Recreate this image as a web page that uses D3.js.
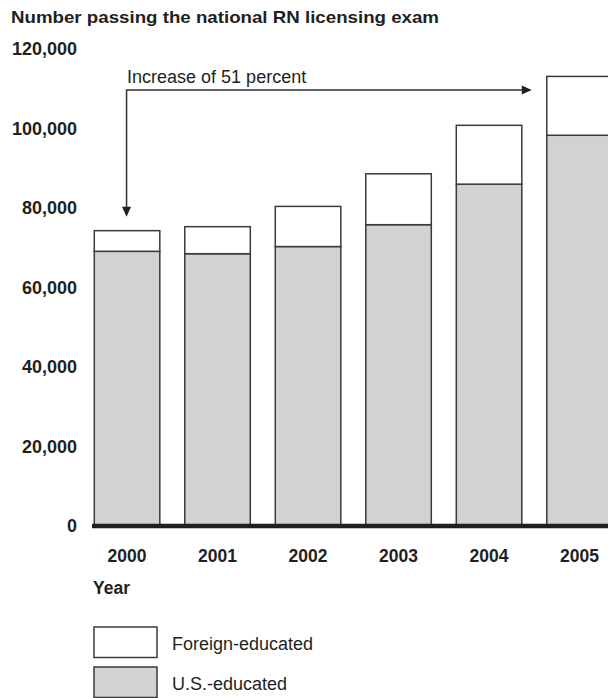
<!DOCTYPE html>
<html>
<head>
<meta charset="utf-8">
<script src="https://cdn.jsdelivr.net/npm/d3@7"></script>
<style>
  html, body { margin: 0; padding: 0; background: #fff; }
  svg { display: block; }
  text { font-family: "Liberation Sans", Arial, Helvetica, sans-serif; fill: #231f20; }
</style>
</head>
<body>
<svg id="chart" width="608" height="698"></svg>
<script>
// RN licensing exam passers by year, split by where the nurse was educated
const years = ["2000", "2001", "2002", "2003", "2004", "2005"];
const usEducated = [69100, 68500, 70300, 75800, 86000, 98300];
const foreignEducated = [5200, 6800, 10100, 12800, 14800, 14800];
const yTicks = [0, 20000, 40000, 60000, 80000, 100000, 120000];
const seriesNames = ["Foreign-educated", "U.S.-educated"];
const seriesFills = ["#ffffff", "#d1d2d4"];

const svg = d3.select("#chart");
const ink = "#231f20";
const barStroke = "#3a3a3a";
const fontStack = "'Liberation Sans', Arial, sans-serif";

const x = d3.scaleBand()
  .domain(years)
  .range([81.8, 624.8])
  .paddingInner(0.276)
  .paddingOuter(0.138);

const y = d3.scaleLinear().domain([0, 120000]).range([526, 49]);

// Title
svg.append("text")
  .attr("x", 11).attr("y", 23)
  .attr("font-size", 17).attr("font-weight", "bold")
  .attr("textLength", 428).attr("lengthAdjust", "spacingAndGlyphs")
  .text("Number passing the national RN licensing exam");

// Y axis labels (no line, no ticks)
const yAxis = d3.axisLeft(y).tickValues(yTicks).tickSize(0).tickPadding(0)
  .tickFormat(d3.format(","));
const yg = svg.append("g").attr("transform", "translate(77,0)").call(yAxis);
yg.select(".domain").remove();
yg.selectAll("text")
  .attr("font-size", 18).attr("font-weight", "bold")
  .attr("font-family", fontStack)
  .attr("fill", ink);

// Stacked bars
const rows = years.map((yr, i) => ({ year: yr, us: usEducated[i], foreign: foreignEducated[i] }));
const bars = svg.append("g");
rows.forEach(r => {
  const g = bars.append("g");
  g.append("rect")
    .attr("x", x(r.year)).attr("width", x.bandwidth())
    .attr("y", y(r.us)).attr("height", y(0) - y(r.us))
    .attr("fill", seriesFills[1]).attr("stroke", barStroke).attr("stroke-width", 1.5);
  g.append("rect")
    .attr("x", x(r.year)).attr("width", x.bandwidth())
    .attr("y", y(r.us + r.foreign)).attr("height", y(r.us) - y(r.us + r.foreign))
    .attr("fill", seriesFills[0]).attr("stroke", barStroke).attr("stroke-width", 1.5);
});

// Heavy baseline
svg.append("line")
  .attr("x1", 92).attr("x2", 608)
  .attr("y1", y(0)).attr("y2", y(0))
  .attr("stroke", ink).attr("stroke-width", 4.5);

// X axis labels
const xAxis = d3.axisBottom(x).tickSize(0).tickPadding(0);
const xg = svg.append("g").attr("transform", "translate(0,550)").call(xAxis);
xg.select(".domain").remove();
xg.selectAll("text")
  .attr("font-size", 17.5).attr("font-weight", "bold")
  .attr("font-family", fontStack)
  .attr("fill", ink);

svg.append("text")
  .attr("x", 93).attr("y", 594)
  .attr("font-size", 17.5).attr("font-weight", "bold")
  .text("Year");

// Annotation: growth from 2000 to 2005
const first = rows[0], last = rows[rows.length - 1];
const ax = x(first.year) + x.bandwidth() / 2 - 0.5;
const ay = 90;
const endX = x(last.year) - 15;
const tipY = y(first.us + first.foreign) - 14;
const note = svg.append("g");
note.append("path")
  .attr("d", `M${endX - 9},${ay} H${ax} V${tipY - 9}`)
  .attr("fill", "none").attr("stroke", "#333").attr("stroke-width", 1.5);
note.append("path")
  .attr("d", `M${endX},${ay} L${endX - 10},${ay - 4.5} L${endX - 10},${ay + 4.5} Z`)
  .attr("fill", ink);
note.append("path")
  .attr("d", `M${ax},${tipY} L${ax - 4.5},${tipY - 10} L${ax + 4.5},${tipY - 10} Z`)
  .attr("fill", ink);
note.append("text")
  .attr("x", ax + 0.5).attr("y", 83)
  .attr("font-size", 18)
  .text("Increase of 51 percent");

// Legend
const legend = svg.append("g").attr("transform", "translate(94,627)");
seriesNames.forEach((name, i) => {
  const g = legend.append("g").attr("transform", `translate(0,${i * 40})`);
  g.append("rect")
    .attr("width", 63).attr("height", 30.5)
    .attr("fill", seriesFills[i]).attr("stroke", barStroke).attr("stroke-width", 1.5);
  g.append("text")
    .attr("x", 78).attr("y", 23)
    .attr("font-size", 18)
    .text(name);
});
</script>
</body>
</html>
